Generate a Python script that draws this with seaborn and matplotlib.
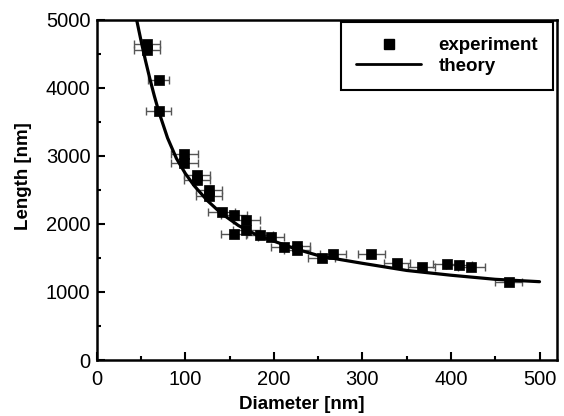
import numpy as np
import pandas as pd
import matplotlib
matplotlib.use("Agg")
import matplotlib.pyplot as plt
import seaborn as sns
from matplotlib.lines import Line2D
from matplotlib.ticker import MultipleLocator

diam = [57, 57, 70, 70, 99, 99, 113, 113, 127, 127, 141, 155, 155, 169, 169,
        184, 197, 212, 226, 226, 254, 267, 310, 339, 367, 395, 409, 423, 465]
length = [4640, 4550, 4110, 3650, 3020, 2900, 2710, 2640, 2500, 2410, 2175, 2125, 1850, 2055, 1910,
          1835, 1800, 1665, 1680, 1620, 1495, 1555, 1555, 1420, 1370, 1410, 1395, 1370, 1150]
diam_err = [15, 15, 12, 14, 15, 15, 15, 15, 15, 15, 15, 15, 15, 15, 15,
            15, 15, 15, 15, 15, 15, 15, 15, 15, 15, 15, 15, 15, 15]

# theory curve
theory_d = [44, 45, 50, 55, 60, 65, 70, 80, 90, 100, 110, 125, 140, 160, 180, 200,
            225, 250, 275, 300, 350, 400, 450, 500]
theory_l = [5060, 5000, 4690, 4400, 4130, 3880, 3650, 3260, 2960, 2740, 2560, 2340, 2160, 1975, 1840, 1745,
            1630, 1535, 1475, 1420, 1315, 1245, 1185, 1150]

exp_df = pd.DataFrame({"Diameter": diam, "Length": length, "err": diam_err})
th_df = pd.DataFrame({"Diameter": theory_d, "Length": theory_l})

sns.set_style("ticks")
plt.rcParams["font.family"] = ["Liberation Sans", "DejaVu Sans"]
plt.rcParams["text.color"] = "black"
plt.rcParams["axes.labelcolor"] = "black"

fig = plt.figure(figsize=(5.64, 4.16), dpi=100)
ax = fig.add_axes([0.1715, 0.1346, 0.8165, 0.8185])

ax.errorbar(exp_df["Diameter"], exp_df["Length"], xerr=exp_df["err"], fmt="none",
            ecolor="#555555", elinewidth=1, capsize=3, capthick=1, zorder=2)
sns.lineplot(data=th_df, x="Diameter", y="Length", ax=ax, color="black", lw=2.3, zorder=3)
sns.scatterplot(data=exp_df, x="Diameter", y="Length", ax=ax, marker="s", s=55,
                color="black", edgecolor="black", linewidth=0.5, zorder=4)

ax.set_xlim(0, 520)
ax.set_ylim(0, 5000)
ax.xaxis.set_major_locator(MultipleLocator(100))
ax.xaxis.set_minor_locator(MultipleLocator(50))
ax.yaxis.set_major_locator(MultipleLocator(1000))
ax.yaxis.set_minor_locator(MultipleLocator(500))
ax.tick_params(which="both", direction="in", width=1.5, labelsize=14.5, colors="black")
ax.tick_params(which="major", length=6)
ax.tick_params(which="minor", length=3)
ax.tick_params(axis="x", which="major", pad=7)
ax.tick_params(axis="y", which="major", pad=4.5)
for sp in ax.spines.values():
    sp.set_linewidth(1.8)
    sp.set_color("black")

ax.set_xlabel("Diameter [nm]", fontsize=13.5, fontweight="bold", color="black")
ax.set_ylabel("Length [nm]", fontsize=13.5, fontweight="bold", color="black")
ax.xaxis.set_label_coords(0.446, -0.105)
ax.yaxis.set_label_coords(-0.14, 0.54)

handles = [Line2D([], [], marker="s", color="black", ls="none", markersize=7),
           Line2D([], [], color="black", lw=2)]
leg = ax.legend(handles, ["experiment", "theory"], loc="upper right",
                bbox_to_anchor=(0.9907, 0.9927), fancybox=False, framealpha=1,
                edgecolor="black", prop={"weight": "bold", "size": 13.5},
                handlelength=3.5, handletextpad=0.9, borderpad=0.8, labelspacing=0.2,
                borderaxespad=0, labelcolor="black")
leg.get_frame().set_linewidth(1.5)

fig.savefig("out.png", dpi=100)
